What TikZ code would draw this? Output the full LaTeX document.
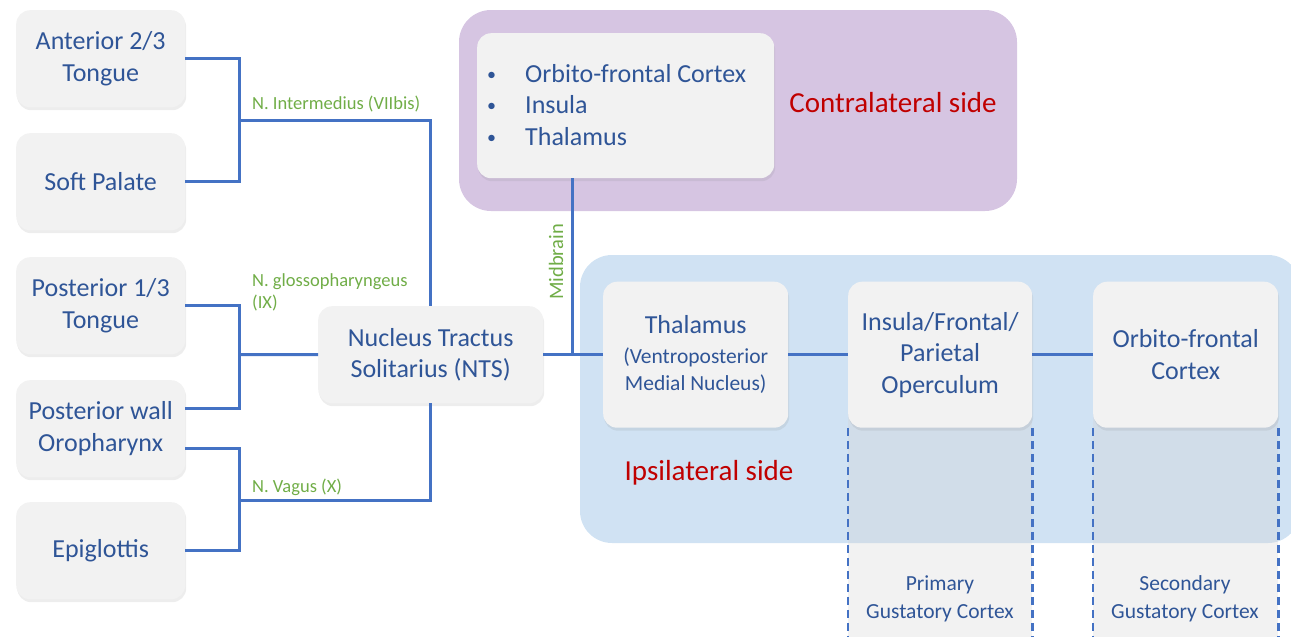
\documentclass[tikz,border=0pt]{standalone}
\usepackage{fontspec}
\setmainfont{Carlito}
\usetikzlibrary{shadows,calc}
\definecolor{boxfill}{HTML}{F2F2F2}
\definecolor{tblue}{HTML}{2F5597}
\definecolor{lblue}{HTML}{4472C4}
\definecolor{lgreen}{HTML}{70AD47}
\definecolor{dred}{HTML}{C00000}
\definecolor{purp}{HTML}{D6C5E2}
\definecolor{bluereg}{HTML}{D0E2F3}
\definecolor{colgray}{HTML}{F2F2F2}
\definecolor{colblue}{HTML}{D1DDE9}
\tikzset{
  fbox/.style={rounded corners=14pt, fill=boxfill, text=tblue, align=center,
    inner sep=0pt, anchor=north west,
    drop shadow={opacity=0.14, shadow xshift=1pt, shadow yshift=-3pt},
    font=\fontsize{26}{31.5}\selectfont},
  conn/.style={draw=lblue, line width=3pt},
  dashline/.style={draw=lblue, line width=2.2pt, dash pattern=on 8pt off 5pt},
  nlabel/.style={text=lgreen, font=\fontsize{18.5}{22}\selectfont, inner sep=0pt},
  side/.style={text=dred, font=\fontsize{29}{34}\selectfont, inner sep=0pt},
  region/.style={rounded corners=32pt}
}
\begin{document}
\begin{tikzpicture}[x=1pt,y=-1pt]
\useasboundingbox (0,0) rectangle (1291,637);
% regions
\fill[purp, region] (459,10) rectangle (1017,211);
\begin{scope}
\clip (0,0) rectangle (1291,637);
\fill[bluereg, region] (580,255) rectangle (1300,543);
\end{scope}
% gray columns
\fill[colgray] (848,300) rectangle (1032,637);
\fill[colgray] (1093,300) rectangle (1278,637);
\begin{scope}
\clip[region] (580,255) rectangle (1300,543);
\fill[colblue] (848,300) rectangle (1032,637);
\fill[colblue] (1093,300) rectangle (1278,637);
\end{scope}
% left boxes
\node[fbox, minimum width=169pt, minimum height=97pt] (a1) at (16,10) {Anterior 2/3\\Tongue};
\node[fbox, minimum width=169pt, minimum height=97pt] (a2) at (16,133) {Soft Palate};
\node[fbox, minimum width=169pt, minimum height=97pt] (a3) at (16,257) {Posterior 1/3\\Tongue};
\node[fbox, minimum width=169pt, minimum height=97pt] (a4) at (16,380) {Posterior wall\\Oropharynx};
\node[fbox, minimum width=169pt, minimum height=97pt] (a5) at (16,502) {Epiglottis};
\node[fbox, minimum width=225pt, minimum height=97pt] (nts) at (318,306) {Nucleus Tractus\\Solitarius (NTS)};
\node[fbox, minimum width=297pt, minimum height=145pt, align=left] (contra) at (477,33) {};
\node[text=tblue, anchor=north west, align=left, inner sep=0pt, font=\fontsize{26}{31.5}\selectfont] (clist) at (487,64)
  {\makebox[38pt][l]{\fontsize{18}{20}\selectfont\raisebox{2pt}{•}}Orbito-frontal Cortex\\
   \makebox[38pt][l]{\fontsize{18}{20}\selectfont\raisebox{2pt}{•}}Insula\\
   \makebox[38pt][l]{\fontsize{18}{20}\selectfont\raisebox{2pt}{•}}Thalamus};
\node[fbox, minimum width=185pt, minimum height=146pt] (thal) at (603,281.5)
  {Thalamus\\[-2pt]{\fontsize{21.5}{27}\selectfont (Ventroposterior}\\[-4pt]{\fontsize{21.5}{27}\selectfont Medial Nucleus)}};
\node[fbox, minimum width=184pt, minimum height=146pt] (ins) at (848,281.5) {Insula/Frontal/\\Parietal\\Operculum};
\node[fbox, minimum width=185pt, minimum height=146pt] (orb) at (1093,281.5) {Orbito-frontal\\Cortex};
% side labels
\node[side] (cside) at (893,103) {Contralateral side};
\node[side] (iside) at (709,473) {Ipsilateral side};
% cortex labels
\node[text=tblue, align=center, font=\fontsize{21.5}{28}\selectfont, inner sep=0pt] (prim) at (940,599) {Primary\\Gustatory Cortex};
\node[text=tblue, align=center, font=\fontsize{21.5}{28}\selectfont, inner sep=0pt] (sec) at (1185,599) {Secondary\\Gustatory Cortex};
% connector coordinates
\coordinate (b1) at (239,120);
\coordinate (b2) at (239,354.5);
\coordinate (b3) at (239,500);
\coordinate (a4u) at ($(a4.east)+(0,-20)$);
\coordinate (a4l) at ($(a4.east)+(0,20)$);
\coordinate (m1) at (572,178);
\coordinate (m2) at (572,354.5);
% connectors
\draw[conn] (a1.east) -| (b1) |- (a2.east);
\draw[conn] (b1) -| (nts.north);
\draw[conn] (a3.east) -| (b2) |- (a4u);
\draw[conn] (b2) -- (nts.west);
\draw[conn] (a4l) -| (b3) |- (a5.east);
\draw[conn] (b3) -| (nts.south);
\draw[conn] (nts.east) -- (thal.west);
\draw[conn] (m1) -- (m2);
\draw[conn] (thal.east) -- (ins.west);
\draw[conn] (ins.east) -- (orb.west);
% dashed
\draw[dashline] (ins.south west) -- (ins.south west |- 0,637);
\draw[dashline] (ins.south east) -- (ins.south east |- 0,637);
\draw[dashline] (orb.south west) -- (orb.south west |- 0,637);
\draw[dashline] (orb.south east) -- (orb.south east |- 0,637);
% nerve labels
\node[nlabel, anchor=base west] (l1) at (252,109) {N. Intermedius (VIIbis)};
\node[nlabel, anchor=north west, align=left] (l2) at (252,273) {N. glossopharyngeus\\(IX)};
\node[nlabel, anchor=base west] (l3) at (252,492) {N. Vagus (X)};
\node[nlabel, rotate=90, font=\fontsize{20.5}{24}\selectfont] (l4) at (556,262) {Midbrain};
\end{tikzpicture}
\end{document}
